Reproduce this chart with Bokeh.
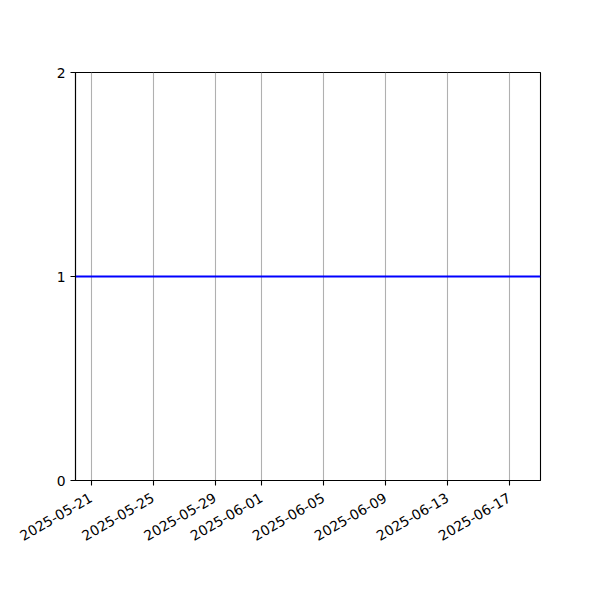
import math
from datetime import datetime
from bokeh.plotting import figure
from bokeh.models import Range1d, FixedTicker, DatetimeTickFormatter
from bokeh.embed import file_html
from bokeh.resources import INLINE

# data
dates = ["2025-05-20", "2025-06-19"]
values = [1, 1]
x_limits = ["2025-05-20", "2025-06-19"]
x_tick_dates = ["2025-05-21", "2025-05-25", "2025-05-29", "2025-06-01",
                "2025-06-05", "2025-06-09", "2025-06-13", "2025-06-17"]
y_ticks = [0, 1, 2]

def ms(s):
    d = datetime.strptime(s, "%Y-%m-%d")
    return (d - datetime(1970, 1, 1)).total_seconds() * 1000.0

xs = [ms(d) for d in dates]

p = figure(width=600, height=600, x_axis_type="datetime",
           output_backend="svg", toolbar_location=None,
           x_range=Range1d(ms(x_limits[0]), ms(x_limits[1])),
           y_range=Range1d(0, 2),
           min_border_left=75, min_border_right=60,
           min_border_top=72, min_border_bottom=120)

p.line(xs, values, line_color="#0000ff", line_width=2.1)

p.xaxis.ticker = FixedTicker(ticks=[ms(d) for d in x_tick_dates])
p.xaxis.formatter = DatetimeTickFormatter(days="%Y-%m-%d", months="%Y-%m-%d",
                                          hours="%Y-%m-%d", years="%Y-%m-%d")
p.xaxis.major_label_orientation = math.pi / 6
p.yaxis.ticker = FixedTicker(ticks=y_ticks)

for ax in (p.xaxis[0], p.yaxis[0]):
    ax.axis_line_color = "black"
    ax.axis_line_width = 1.1
    ax.major_tick_line_color = "black"
    ax.major_tick_line_width = 1.1
    ax.major_tick_out = 5
    ax.major_tick_in = 0
    ax.minor_tick_line_color = None
    ax.major_label_text_font = "DejaVu Sans"
    ax.major_label_text_font_size = "13.9px"
    ax.major_label_text_color = "black"
    ax.major_label_standoff = 5

p.xaxis.major_label_standoff = 11

p.xgrid.grid_line_color = "#b0b0b0"
p.xgrid.grid_line_width = 1.1
p.ygrid.grid_line_color = None

p.outline_line_color = "black"
p.outline_line_width = 1.1
p.outline_line_alpha = 1.0
p.background_fill_color = "white"
p.border_fill_color = "white"

open("out.html", "w").write(file_html(p, INLINE))
